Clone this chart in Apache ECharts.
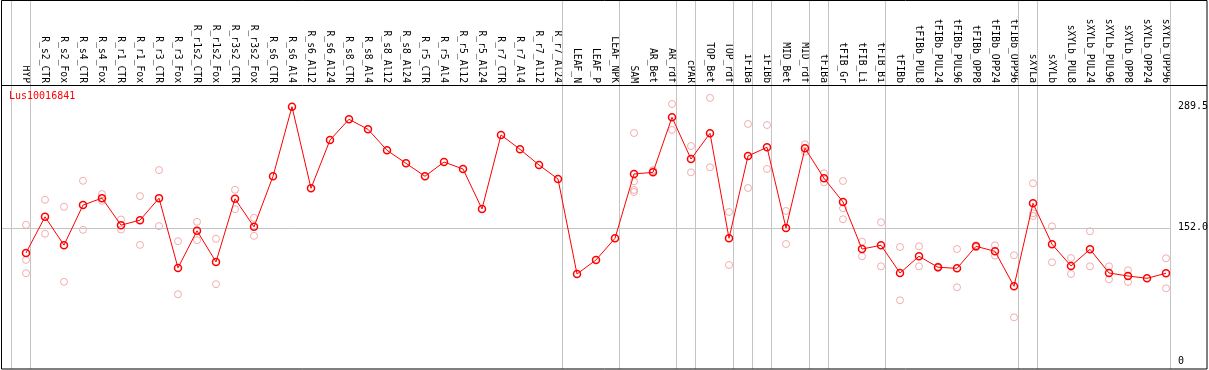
<!DOCTYPE html>
<html>
<head>
<meta charset="utf-8">
<script src="https://cdn.jsdelivr.net/npm/echarts@6/dist/echarts.min.js"></script>
<style>html,body{margin:0;padding:0;background:#fff}#c{width:1209px;height:370px}</style>
</head>
<body>
<div id="c"></div>
<script>
const geneName = 'Lus10016841';
const categories = ['HYP','R_s2_CTR','R_s2_Fox','R_s4_CTR','R_s4_Fox','R_r1_CTR','R_r1_Fox','R_r3_CTR','R_r3_Fox','R_r1s2_CTR','R_r1s2_Fox','R_r3s2_CTR','R_r3s2_Fox','R_s6_CTR','R_s6_Al4','R_s6_Al12','R_s6_Al24','R_s8_CTR','R_s8_Al4','R_s8_Al12','R_s8_Al24','R_r5_CTR','R_r5_Al4','R_r5_Al12','R_r5_Al24','R_r7_CTR','R_r7_Al4','R_r7_Al12','R_r7_Al24','LEAF_N','LEAF_P','LEAF_NPK','SAM','AR_Bet','AR_rdf','cPAR','TOP_Bet','TOP_rdf','iFIBa','iFIBb','MID_Bet','MID_rdf','tFIBa','tFIB_Gr','tFIB_Li','tFIB_Bi','tFIBb','tFIBb_PUL8','tFIBb_PUL24','tFIBb_PUL96','tFIBb_OPP8','tFIBb_OPP24','tFIBb_OPP96','sXYLa','sXYLb','sXYLb_PUL8','sXYLb_PUL24','sXYLb_PUL96','sXYLb_OPP8','sXYLb_OPP24','sXYLb_OPP96'];
const means = [123.5,164.5,132.3,177.8,185.7,155.0,160.7,185.7,106.5,148.6,113.3,184.9,153.1,210.5,289.5,196.9,251.7,275.2,263.8,240.0,225.2,210.5,226.7,218.8,173.4,257.4,241.1,223.3,207.4,99.6,115.5,140.1,213.1,215.0,277.5,230.1,259.3,140.1,233.5,243.4,151.8,242.3,208.2,181.3,127.9,132.2,100.7,119.7,107.2,106.0,131.0,125.3,85.6,179.8,133.3,108.7,127.6,100.7,97.3,94.7,100.4];
const replicates = [[155.4,115.6,100.5],[183.8,145.2],[175.8,90.6],[205.4,149.7],[190.3,182.7],[161.4,150.0],[188.0,132.6],[217.5,153.9],[136.8,76.6],[158.8,138.0],[139.5,88.0],[195.2,173.2],[163.3,142.9],
[],[],[],[],[],[],[],[],[],[],[],[],[],[],[],[],[],[],[],
[259.6,204.8,195.0,192.7],[217.6,216.5],[292.6,263.1],[244.9,215.0],[299.4,220.7],[170.0,109.8],[269.9,197.2],[268.7,218.8],[171.1,133.6],[246.8,238.4],[213.9,203.7],[205.2,174.2,161.7],[136.2,119.7],[158.3,108.3],[130.2,69.7],[131.0,108.3],[108.0,106.5],[127.9,84.5],[132.2,129.8],[132.2,120.4],[120.8,50.4],[202.5,168.5,165.4],[153.7,112.9],[117.7,99.6],[148.0,108.3],[108.3,93.5],[103.8,90.5],[],[117.4,83.3]];
const yTickValues = [0, 152.0, 289.5];
const yTickLabels = ['0', '152.0', '289.5'];
const groupEnds = [-1,0,28,31,34,35,37,38,39,41,42,45,52,53,60];
const refLine = 152.0;

const MONO = '"DejaVu Sans Mono", "Liberation Mono", monospace';
const SEP_OFF = 4.5 / 19;
const xMin = -25 / 19, xMax = (1171 - 26) / 19;
const k = 255 / 289.5;
const yMax = 361.7 / k, yMin = -(369 - 361.7) / k;

const meanData = means.map((v, i) => [i, v]);
const repData = [];
replicates.forEach((arr, i) => arr.forEach(v => repData.push([i, v])));
const idx = categories.map((_, i) => i);

const chart = echarts.init(document.getElementById('c'), null, {renderer: 'canvas'});
chart.setOption({
  animation: false,
  backgroundColor: '#fff',
  title: {text: geneName, left: 9, top: 91, padding: 0,
    textStyle: {color: '#ff0000', fontSize: 10, fontWeight: 'normal', fontFamily: MONO}},
  grid: {left: 1, top: 0, right: 38, bottom: 1, containLabel: false, outerBoundsMode: 'none'},
  xAxis: [
    {type: 'value', min: xMin, max: xMax, show: true,
      axisLine: {show: false}, axisTick: {show: false}, axisLabel: {show: false}, splitLine: {show: false}},
    {type: 'value', min: xMin, max: xMax, position: 'top', offset: -85,
      axisLine: {show: false}, axisTick: {show: false}, splitLine: {show: false},
      axisLabel: {show: true, customValues: idx, rotate: 90, margin: 2,
        formatter: v => categories[Math.round(v)] || '',
        fontSize: 9.7, fontFamily: MONO, color: '#000'}}
  ],
  yAxis: {type: 'value', min: yMin, max: yMax, position: 'right',
    axisLine: {show: false}, axisTick: {show: false}, splitLine: {show: false},
    axisLabel: {show: true, customValues: yTickValues, margin: 7,
      formatter: v => { const j = yTickValues.findIndex(t => Math.abs(t - v) < 1e-6); return j >= 0 ? yTickLabels[j] : ''; },
      fontSize: 10, fontFamily: MONO, color: '#000'}},
  graphic: [
    {type: 'rect', shape: {x: 1.5, y: 0.5, width: 1205.5, height: 368.5}, style: {fill: 'none', stroke: '#000', lineWidth: 1}, z: 100},
    {type: 'line', shape: {x1: 1, y1: 85.5, x2: 1207, y2: 85.5}, style: {stroke: '#000', lineWidth: 1}, z: 100}
  ],
  series: [
    {type: 'scatter', xAxisIndex: 0, data: repData, symbol: 'circle', symbolSize: 7,
      itemStyle: {color: 'rgba(0,0,0,0)', borderColor: '#ee9a9a', borderWidth: 1}, z: 3,
      markLine: {silent: true, symbol: 'none', animation: false,
        lineStyle: {color: '#c4c4c4', type: 'solid', width: 1}, label: {show: false},
        data: groupEnds.map(g => ({xAxis: g + SEP_OFF})).concat([{yAxis: refLine}])}},
    {type: 'line', xAxisIndex: 0, data: meanData, symbol: 'circle', symbolSize: 7,
      lineStyle: {color: '#ff0000', width: 1}, itemStyle: {color: 'rgba(0,0,0,0)', borderColor: '#ff0000', borderWidth: 1.5}, z: 5}
  ]
});
</script>
</body>
</html>
